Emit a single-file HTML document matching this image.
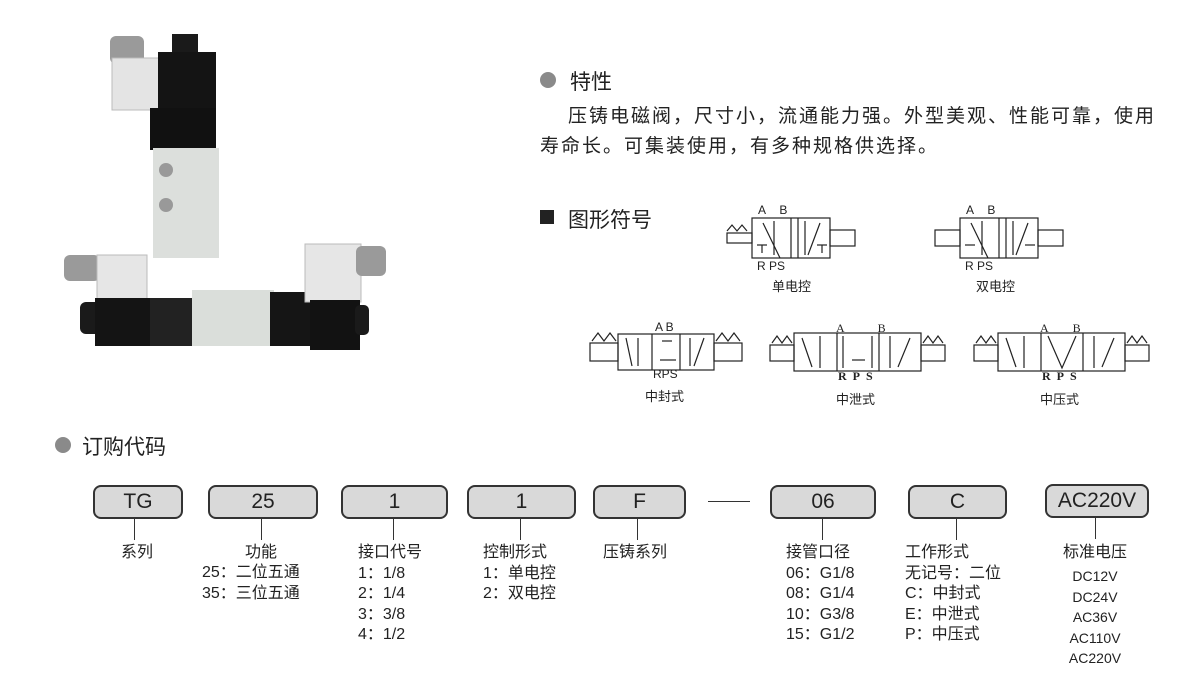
<!DOCTYPE html>
<html><head><meta charset="utf-8">
<style>
html,body{margin:0;padding:0;background:#fff;}
body{width:1200px;height:698px;position:relative;overflow:hidden;font-family:"Liberation Sans","Noto Sans CJK SC",sans-serif;color:#222;}
.a{position:absolute;white-space:nowrap;}
.dot{position:absolute;width:16px;height:16px;border-radius:50%;background:#8a8a8a;}
.box{position:absolute;height:30px;border:2px solid #333;border-radius:8px;background:#d9d9d9;text-align:center;line-height:30px;font-size:21px;color:#222;}
.vl{position:absolute;width:1px;height:22px;background:#333;top:518px;}
.lab{position:absolute;font-size:16px;line-height:20.5px;white-space:nowrap;color:#222;}
.sym{position:absolute;font-size:12px;}
</style></head><body>

<svg class="a" style="left:0;top:0" width="420" height="400">
 <!-- vertical valve -->
 <rect x="110" y="36" width="34" height="28" rx="6" fill="#9a9a9a"/>
 <rect x="112" y="58" width="50" height="52" fill="#e4e4e4" stroke="#bbb"/>
 <rect x="172" y="34" width="26" height="22" fill="#1a1a1a"/>
 <rect x="158" y="52" width="58" height="58" fill="#141414"/>
 <rect x="150" y="108" width="66" height="42" fill="#111"/>
 <rect x="153" y="148" width="66" height="110" fill="#dcdfdc"/>
 <circle cx="166" cy="170" r="7" fill="#999"/><circle cx="166" cy="205" r="7" fill="#999"/>
 <!-- horizontal valve -->
 <rect x="64" y="255" width="36" height="26" rx="6" fill="#9a9a9a"/>
 <rect x="97" y="255" width="50" height="47" fill="#e6e6e6" stroke="#bbb"/>
 <rect x="80" y="302" width="22" height="32" rx="6" fill="#1a1a1a"/>
 <rect x="95" y="298" width="55" height="48" fill="#141414"/>
 <rect x="150" y="298" width="42" height="48" fill="#222"/>
 <rect x="192" y="290" width="82" height="56" fill="#dadeda"/>
 <rect x="270" y="292" width="42" height="54" fill="#151515"/>
 <rect x="305" y="244" width="56" height="58" fill="#e6e6e6" stroke="#bbb"/>
 <rect x="356" y="246" width="30" height="30" rx="6" fill="#9a9a9a"/>
 <rect x="310" y="300" width="50" height="50" fill="#121212"/>
 <rect x="355" y="305" width="14" height="30" rx="5" fill="#1a1a1a"/>
</svg>

<div class="dot" style="left:540px;top:72px"></div>
<div class="a" style="left:570px;top:66px;font-size:21px">特性</div>
<div class="a" style="left:568px;top:101px;font-size:19px;letter-spacing:2px">压铸电磁阀，尺寸小，流通能力强。外型美观、性能可靠，使用</div>
<div class="a" style="left:540px;top:131px;font-size:19px;letter-spacing:2px">寿命长。可集装使用，有多种规格供选择。</div>

<div class="a" style="left:540px;top:210px;width:14px;height:14px;background:#222"></div>
<div class="a" style="left:568px;top:204px;font-size:21px">图形符号</div>

<svg class="a" style="left:580px;top:195px" width="600" height="215" fill="none" stroke="#222" stroke-width="1.2">
 <!-- single -->
 <rect x="172" y="23" width="78" height="40"/><line x1="211" y1="23" x2="211" y2="63"/>
 <line x1="218" y1="23" x2="218" y2="63"/>
 <line x1="200" y1="63" x2="183" y2="28"/><line x1="194" y1="26" x2="194" y2="60"/>
 <line x1="225" y1="26" x2="225" y2="60"/><line x1="228" y1="60" x2="240" y2="28"/>
 <line x1="177" y1="50" x2="187" y2="50"/><line x1="182" y1="50" x2="182" y2="58"/>
 <line x1="237" y1="50" x2="247" y2="50"/><line x1="242" y1="50" x2="242" y2="58"/>
 <rect x="250" y="35" width="25" height="16"/><polyline points="147,36 152,30 157,36 162,30 167,36"/>
 <rect x="147" y="38" width="25" height="10"/>
 <!-- double -->
 <rect x="380" y="23" width="78" height="40"/><line x1="419" y1="23" x2="419" y2="63"/><line x1="426" y1="23" x2="426" y2="63"/>
 <line x1="408" y1="63" x2="391" y2="28"/><line x1="402" y1="26" x2="402" y2="60"/>
 <line x1="433" y1="26" x2="433" y2="60"/><line x1="436" y1="60" x2="448" y2="28"/>
 <line x1="385" y1="50" x2="395" y2="50"/><line x1="445" y1="50" x2="455" y2="50"/>
 <rect x="355" y="35" width="25" height="16"/><rect x="458" y="35" width="25" height="16"/>
 <g transform="translate(0,-22)">
 <!-- 中封式 -->
 <rect x="38" y="161" width="96" height="36"/><line x1="72" y1="161" x2="72" y2="197"/><line x1="100" y1="161" x2="100" y2="197"/>
 <line x1="52" y1="193" x2="46" y2="165"/><line x1="58" y1="165" x2="58" y2="193"/>
 <line x1="110" y1="165" x2="110" y2="193"/><line x1="114" y1="193" x2="124" y2="165"/>
 <line x1="80" y1="187" x2="96" y2="187"/><line x1="82" y1="168" x2="92" y2="168"/>
 <rect x="10" y="170" width="28" height="18"/><rect x="134" y="170" width="28" height="18"/>
 <polyline points="12,168 18,160 24,168 30,160 36,168"/><polyline points="136,168 142,160 148,168 154,160 160,168"/>
 <!-- 中泄式 -->
 <rect x="214" y="160" width="127" height="38"/><line x1="257" y1="160" x2="257" y2="198"/><line x1="299" y1="160" x2="299" y2="198"/>
 <line x1="232" y1="194" x2="222" y2="165"/><line x1="240" y1="163" x2="240" y2="195"/>
 <line x1="263" y1="163" x2="263" y2="195"/><line x1="292" y1="163" x2="292" y2="195"/><line x1="272" y1="187" x2="285" y2="187"/>
 <line x1="310" y1="163" x2="310" y2="195"/><line x1="318" y1="194" x2="330" y2="165"/>
 <rect x="190" y="172" width="24" height="16"/><rect x="341" y="172" width="24" height="16"/>
 <polyline points="192,170 197,163 202,170 207,163 212,170"/><polyline points="343,170 348,163 353,170 358,163 363,170"/>
 <!-- 中压式 -->
 <rect x="418" y="160" width="127" height="38"/><line x1="461" y1="160" x2="461" y2="198"/><line x1="503" y1="160" x2="503" y2="198"/>
 <line x1="436" y1="194" x2="426" y2="165"/><line x1="444" y1="163" x2="444" y2="195"/>
 <polyline points="468,163 482,195 496,163"/>
 <line x1="514" y1="163" x2="514" y2="195"/><line x1="522" y1="194" x2="534" y2="165"/>
 <rect x="394" y="172" width="24" height="16"/><rect x="545" y="172" width="24" height="16"/>
 <polyline points="396,170 401,163 406,170 411,163 416,170"/><polyline points="547,170 552,163 557,170 562,163 567,170"/>
 </g>
</svg>
<div class="sym" style="left:758px;top:203px">A&nbsp;&nbsp;&nbsp;&nbsp;B</div>
<div class="sym" style="left:757px;top:259px">R PS</div>
<div class="sym" style="left:966px;top:203px">A&nbsp;&nbsp;&nbsp;&nbsp;B</div>
<div class="sym" style="left:965px;top:259px">R PS</div>
<div class="sym" style="left:655px;top:320px">A B</div>
<div class="sym" style="left:653px;top:367px">RPS</div>
<div class="sym" style="left:836px;top:321px;font-family:'Liberation Serif',serif">A&nbsp;&nbsp;&nbsp;&nbsp;&nbsp;&nbsp;&nbsp;&nbsp;&nbsp;&nbsp;&nbsp;B</div>
<div class="sym" style="left:838px;top:369px;font-family:'Liberation Serif',serif;font-weight:bold">R&nbsp;&nbsp;P&nbsp;&nbsp;S</div>
<div class="sym" style="left:1040px;top:321px;font-family:'Liberation Serif',serif">A&nbsp;&nbsp;&nbsp;&nbsp;&nbsp;&nbsp;&nbsp;&nbsp;B</div>
<div class="sym" style="left:1042px;top:369px;font-family:'Liberation Serif',serif;font-weight:bold">R&nbsp;&nbsp;P&nbsp;&nbsp;S</div>
<div class="sym" style="left:772px;top:276px;font-size:13px">单电控</div>
<div class="sym" style="left:976px;top:276px;font-size:13px">双电控</div>
<div class="sym" style="left:645px;top:386px;font-size:13px">中封式</div>
<div class="sym" style="left:836px;top:389px;font-size:13px">中泄式</div>
<div class="sym" style="left:1040px;top:389px;font-size:13px">中压式</div>

<div class="dot" style="left:55px;top:437px"></div>
<div class="a" style="left:82px;top:431px;font-size:21px">订购代码</div>

<div class="box" style="left:93px;top:485px;width:86px">TG</div>
<div class="box" style="left:208px;top:485px;width:106px">25</div>
<div class="box" style="left:341px;top:485px;width:103px">1</div>
<div class="box" style="left:467px;top:485px;width:105px">1</div>
<div class="box" style="left:593px;top:485px;width:89px">F</div>
<div class="a" style="left:708px;top:501px;width:42px;height:1px;background:#333"></div>
<div class="box" style="left:770px;top:485px;width:102px">06</div>
<div class="box" style="left:908px;top:485px;width:95px">C</div>
<div class="box" style="left:1045px;top:484px;width:100px">AC220V</div>

<div class="vl" style="left:134px"></div>
<div class="vl" style="left:261px"></div>
<div class="vl" style="left:393px"></div>
<div class="vl" style="left:520px"></div>
<div class="vl" style="left:637px"></div>
<div class="vl" style="left:822px"></div>
<div class="vl" style="left:956px"></div>
<div class="vl" style="left:1095px;top:517px"></div>

<div class="lab" style="left:121px;top:543px">系列</div>
<div class="lab" style="left:208px;top:543px;width:106px;text-align:center">功能</div>
<div class="lab" style="left:202px;top:563px">25：二位五通<br>35：三位五通</div>
<div class="lab" style="left:358px;top:543px">接口代号<br>1：1/8<br>2：1/4<br>3：3/8<br>4：1/2</div>
<div class="lab" style="left:483px;top:543px">控制形式<br>1：单电控<br>2：双电控</div>
<div class="lab" style="left:603px;top:543px">压铸系列</div>
<div class="lab" style="left:786px;top:543px">接管口径<br>06：G1/8<br>08：G1/4<br>10：G3/8<br>15：G1/2</div>
<div class="lab" style="left:905px;top:543px">工作形式<br>无记号：二位<br>C：中封式<br>E：中泄式<br>P：中压式</div>
<div class="lab" style="left:1045px;top:543px;width:100px;text-align:center">标准电压</div>
<div class="lab" style="left:1045px;top:566px;width:100px;text-align:center;font-size:14px;line-height:20.5px">DC12V<br>DC24V<br>AC36V<br>AC110V<br>AC220V</div>
</body></html>
